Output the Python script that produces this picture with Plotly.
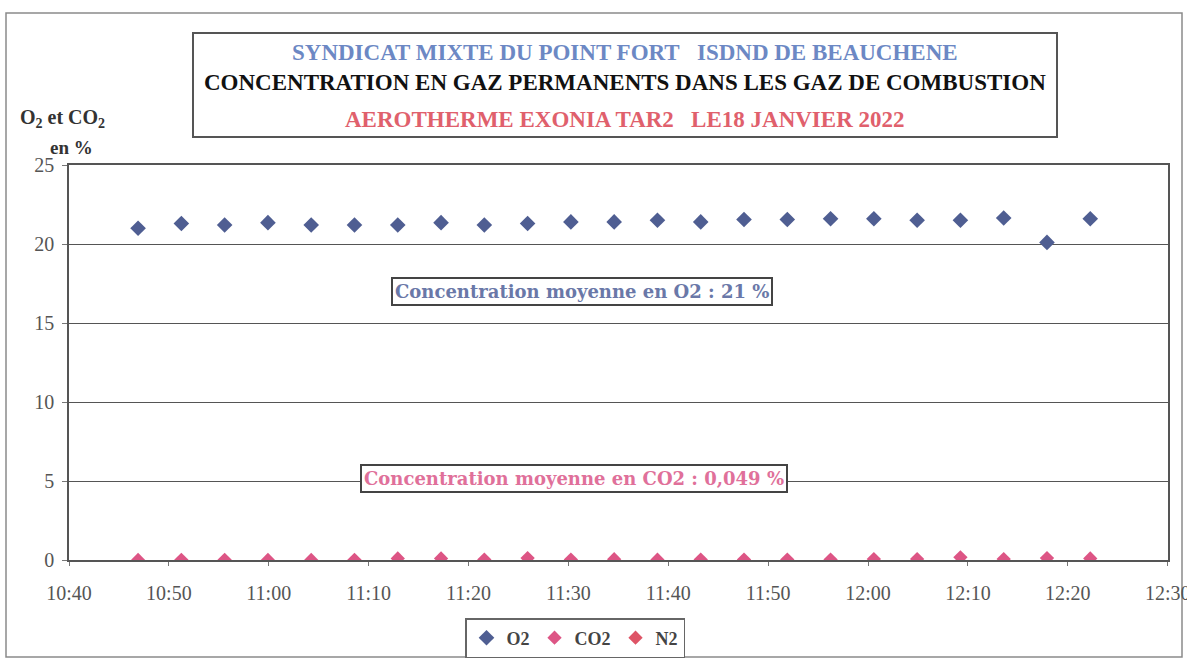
import plotly.graph_objects as go

# Measurement times (18 January 2022)
times = [
    "10:46:55", "10:51:15", "10:55:35", "10:59:55", "11:04:15", "11:08:35",
    "11:12:55", "11:17:15", "11:21:35", "11:25:55", "11:30:15", "11:34:35",
    "11:38:55", "11:43:15", "11:47:35", "11:51:55", "11:56:15", "12:00:35",
    "12:04:55", "12:09:15", "12:13:35", "12:17:55", "12:22:15",
]
o2 = [21.0, 21.3, 21.2, 21.35, 21.2, 21.2, 21.2, 21.35, 21.2, 21.3, 21.4, 21.4,
      21.5, 21.4, 21.55, 21.55, 21.6, 21.6, 21.5, 21.5, 21.65, 20.1, 21.6]
co2 = [0.0, 0.01, 0.01, 0.0, 0.0, 0.01, 0.1, 0.1, 0.03, 0.12, 0.03, 0.05,
       0.02, 0.03, 0.03, 0.03, 0.03, 0.06, 0.06, 0.17, 0.06, 0.12, 0.1]

day = "2022-01-18 "
x = [day + t for t in times]
x_range = [day + "10:40:00", day + "12:30:02"]
y_ticks = [0, 5, 10, 15, 20, 25]

title_lines = [
    ("SYNDICAT MIXTE DU POINT FORT\u00a0\u00a0\u00a0ISDND DE BEAUCHENE", "#6C88C4"),
    ("CONCENTRATION EN GAZ PERMANENTS DANS LES GAZ DE COMBUSTION", "#111111"),
    ("AEROTHERME EXONIA TAR2\u00a0\u00a0\u00a0LE18 JANVIER 2022", "#E0606C"),
]
mean_o2_text = "Concentration moyenne en O2 : 21 %"
mean_co2_text = "Concentration moyenne en CO2 : 0,049 %"

SERIF = "Liberation Serif"
WIDE_SERIF = "DejaVu Serif"
W, H = 1187, 662
L, R, T, B = 69, 19, 165, 102
PW, PH = W - L - R, H - T - B


def px(p):
    return (p - L) / PW


def py(q):
    return (H - B - q) / PH


fig = go.Figure()
fig.add_trace(go.Scatter(
    x=x, y=o2, mode="markers", name="O2",
    marker=dict(symbol="diamond", size=12, color="#4F5E92"),
))
fig.add_trace(go.Scatter(
    x=x, y=co2, mode="markers", name="CO2",
    marker=dict(symbol="diamond", size=11, color="#DD5585"),
))
fig.add_trace(go.Scatter(
    x=[None], y=[None], mode="markers", name="N2",
    marker=dict(symbol="diamond", size=11, color="#DE5466"),
))

shapes = [
    # outer frame of the chart
    dict(type="rect", xref="paper", yref="paper",
         x0=px(6), x1=px(1182), y0=py(657), y1=py(13),
         line=dict(color="#8a8a8a", width=1.5), layer="below"),
    # title box
    dict(type="rect", xref="paper", yref="paper",
         x0=px(193), x1=px(1057), y0=py(137), y1=py(33),
         line=dict(color="#555555", width=2), fillcolor="white"),
]

annotations = []
for (txt, col), yy in zip(title_lines, [52, 82, 119]):
    annotations.append(dict(
        text=f"<b>{txt}</b>", x=px(625), y=py(yy), xref="paper", yref="paper",
        showarrow=False, xanchor="center", yanchor="middle",
        font=dict(family=SERIF, size=23, color=col),
    ))

annotations += [
    dict(text="<b>O<sub>2</sub> et CO<sub>2</sub></b>", x=px(62), y=py(118),
         xref="paper", yref="paper", showarrow=False,
         xanchor="center", yanchor="middle",
         font=dict(family=SERIF, size=20, color="#333333")),
    dict(text="<b>en %</b>", x=px(71), y=py(147), xref="paper", yref="paper",
         showarrow=False, xanchor="center", yanchor="middle",
         font=dict(family=SERIF, size=19, color="#333333")),
    dict(text=f"<b>{mean_o2_text}</b>", x=px(582), y=py(291),
         xref="paper", yref="paper", showarrow=False,
         xanchor="center", yanchor="middle",
         font=dict(family=WIDE_SERIF, size=18, color="#6A78A8"),
         bgcolor="white", bordercolor="#444444", borderwidth=2, borderpad=2),
    dict(text=f"<b>{mean_co2_text}</b>", x=px(574), y=py(478),
         xref="paper", yref="paper", showarrow=False,
         xanchor="center", yanchor="middle",
         font=dict(family=WIDE_SERIF, size=18, color="#E0709A"),
         bgcolor="white", bordercolor="#444444", borderwidth=2, borderpad=2),
]

fig.update_layout(
    width=W, height=H,
    margin=dict(l=L, r=R, t=T, b=B, autoexpand=False),
    paper_bgcolor="white", plot_bgcolor="white",
    font=dict(family=SERIF, size=18, color="#555555"),
    shapes=shapes, annotations=annotations,
    showlegend=True,
    legend=dict(
        orientation="h", x=px(575), y=py(638), xanchor="center", yanchor="middle",
        bgcolor="white", bordercolor="#666666", borderwidth=1.5,
        font=dict(family=SERIF, size=18, color="#444444", weight="bold"),
        itemwidth=30, tracegroupgap=0,
    ),
)

fig.update_xaxes(
    type="date", range=x_range, dtick=600000, tickformat="%H:%M",
    tick0=day + "10:40:00", ticklabeloverflow="allow",
    showgrid=False, showline=True, linecolor="#555555", linewidth=1.5,
    mirror=True, ticks="outside", ticklen=4, tickcolor="#777777",
    ticklabelstandoff=10, zeroline=False,
    tickfont=dict(family=SERIF, size=20, color="#555555"),
)
fig.update_yaxes(
    range=[0, 25], tickvals=y_ticks, showgrid=True, gridcolor="#555555",
    gridwidth=1, showline=True, linecolor="#555555", linewidth=1.5,
    mirror=True, ticks="outside", ticklen=5, tickcolor="#777777",
    ticklabelstandoff=4, zeroline=False,
    tickfont=dict(family=SERIF, size=20, color="#555555"),
)

fig.write_html("out.html")
